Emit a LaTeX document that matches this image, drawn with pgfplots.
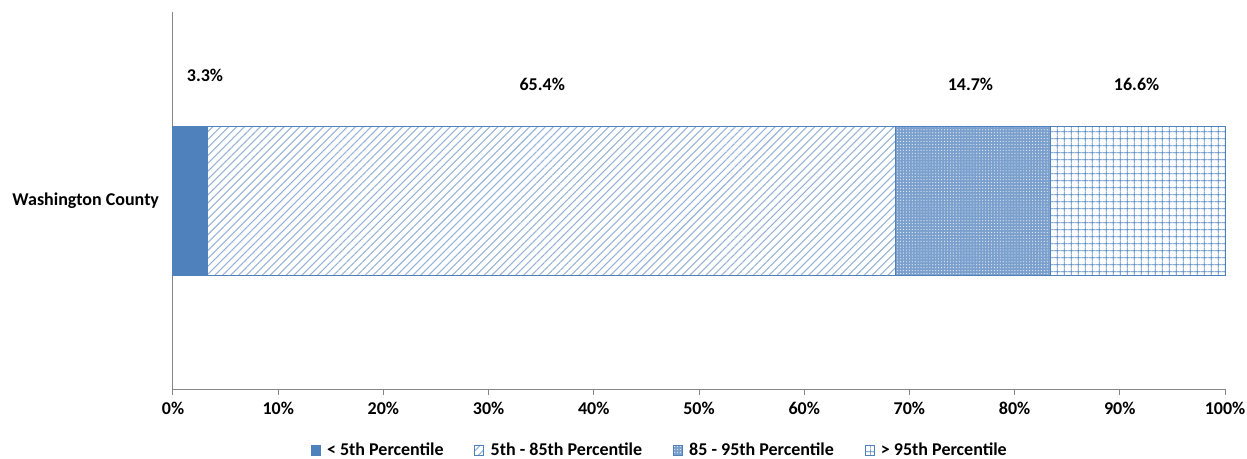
\documentclass[border=0pt]{standalone}
\usepackage{pgfplots}
\pgfplotsset{compat=1.18}
\usepackage{fontspec}
\setmainfont{Carlito}
\usetikzlibrary{patterns,patterns.meta}
\definecolor{xb}{HTML}{4F81BD}
\definecolor{axg}{HTML}{868686}
\newcommand{\cf}{\fontsize{13.5}{16}\selectfont\bfseries}
\begin{document}
\begin{tikzpicture}
\path[use as bounding box] (-129.75pt,-51.75pt) rectangle (805.5pt,292pt);
\begin{axis}[
  at={(0,0)}, anchor=south west,
  scale only axis, width=789pt, height=283pt,
  xbar stacked, bar width=0.79,
  xmin=0, xmax=100, ymin=-1, ymax=1,
  axis x line*=bottom, axis y line*=left,
  axis line style={axg, line width=0.75pt},
  xtick={0,10,...,100},
  xticklabels={0\%,10\%,20\%,30\%,40\%,50\%,60\%,70\%,80\%,90\%,100\%},
  xtick align=outside, major tick length=4pt,
  x tick style={axg, line width=0.75pt},
  ytick={0}, yticklabels={Washington County},
  y tick style={draw=none},
  ticklabel style={font=\cf, black},
  xticklabel style={yshift=-2pt},
  yticklabel style={xshift=-7pt},
  legend columns=4,
  legend style={at={(0.463,-0.162)}, anchor=center, draw=none,
    font=\cf, inner sep=0pt,
    /tikz/every even column/.append style={column sep=21pt}},
  legend image code/.code={\draw[#1] (0pt,-3.4pt) rectangle (6.8pt,3.4pt); \path (9.5pt,0pt);},
  clip=false,
]
\addplot[fill=xb, draw=xb, line width=0.75pt] coordinates {(3.3,0)};
\addplot[draw=xb, line width=0.75pt, pattern={Lines[angle=45,distance=4.2pt,line width=0.8pt]}, pattern color=xb!60] coordinates {(65.4,0)};
\addplot[draw=xb, line width=0.75pt, fill=xb!75, postaction={pattern={Dots[distance=2.2pt,radius=0.45pt]}, pattern color=white!85!xb}] coordinates {(14.7,0)};
\addplot[draw=xb, line width=0.75pt, pattern={Hatch[angle=0,distance=5.4pt,line width=0.55pt]}, pattern color=xb] coordinates {(16.6,0)};
\legend{< 5th Percentile, 5th - 85th Percentile, 85 - 95th Percentile, > 95th Percentile}
\node[font=\cf] at (axis cs:3.04,0.666) {3.3\%};
\node[font=\cf] at (axis cs:35.1,0.618) {65.4\%};
\node[font=\cf] at (axis cs:75.8,0.618) {14.7\%};
\node[font=\cf] at (axis cs:91.6,0.618) {16.6\%};
\end{axis}
\end{tikzpicture}
\end{document}
